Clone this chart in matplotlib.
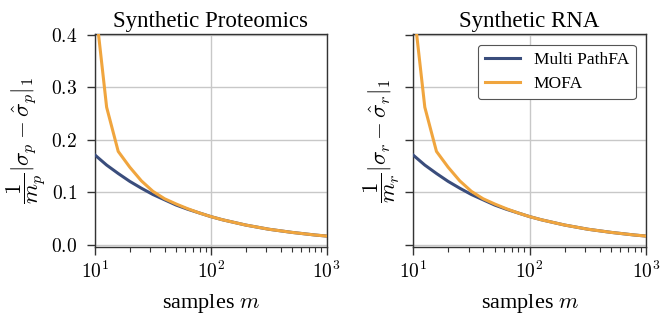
import matplotlib
matplotlib.use("Agg")
import matplotlib.pyplot as plt
import matplotlib.ticker as mticker
import numpy as np

samples = [10.0, 12.59, 15.85, 19.95, 25.12, 31.62, 39.81, 50.12, 63.10, 79.43,
           100.0, 125.9, 158.5, 199.5, 251.2, 316.2, 398.1, 501.2, 631.0, 794.3, 1000.0]
pathfa_prot = [0.171, 0.152, 0.136, 0.121, 0.108, 0.096, 0.086, 0.076, 0.068, 0.061,
               0.054, 0.048, 0.043, 0.038, 0.034, 0.030, 0.027, 0.024, 0.0215, 0.019, 0.017]
mofa_prot = [0.46, 0.262, 0.178, 0.148, 0.122, 0.102, 0.088, 0.078, 0.069, 0.061,
             0.054, 0.048, 0.043, 0.038, 0.034, 0.030, 0.027, 0.024, 0.0215, 0.019, 0.017]
pathfa_rna = [0.171, 0.152, 0.136, 0.121, 0.108, 0.096, 0.086, 0.076, 0.068, 0.061,
              0.054, 0.048, 0.043, 0.038, 0.034, 0.030, 0.027, 0.024, 0.0215, 0.019, 0.017]
mofa_rna = [0.46, 0.262, 0.178, 0.148, 0.122, 0.102, 0.088, 0.078, 0.069, 0.061,
            0.054, 0.048, 0.043, 0.038, 0.034, 0.030, 0.027, 0.024, 0.0215, 0.019, 0.017]
titles = ["Synthetic Proteomics", "Synthetic RNA"]
ylabels = [r"$\dfrac{1}{m_p}|\sigma_p - \hat{\sigma}_p|_1$",
           r"$\dfrac{1}{m_r}|\sigma_r - \hat{\sigma}_r|_1$"]
yticks = [0.0, 0.1, 0.2, 0.3, 0.4]

plt.rcParams["mathtext.fontset"] = "cm"
plt.rcParams["font.family"] = ["Liberation Serif", "DejaVu Serif"]

BLUE = "#3a4d7c"
ORANGE = "#f0a53e"
SPINE = "#333333"

fig = plt.figure(figsize=(6.6, 3.16), dpi=100)
ax1 = fig.add_axes([0.144, 0.218, 0.351, 0.674])
ax2 = fig.add_axes([0.626, 0.218, 0.353, 0.674])

data = [(pathfa_prot, mofa_prot), (pathfa_rna, mofa_rna)]
for i, ax in enumerate([ax1, ax2]):
    pf, mo = data[i]
    ax.plot(samples, pf, color=BLUE, lw=2.2, label="Multi PathFA", zorder=3)
    ax.plot(samples, mo, color=ORANGE, lw=2.2, label="MOFA", zorder=3)
    ax.set_xscale("log")
    ax.set_xlim(10, 1000)
    ax.set_ylim(-0.004, 0.401)
    ax.set_yticks(yticks)
    ax.grid(True, which="major", color="#c8c8c8", lw=1.0, zorder=0)
    for s in ax.spines.values():
        s.set_color(SPINE)
        s.set_linewidth(1.0)
    ax.tick_params(axis="both", which="major", length=6, width=1, color=SPINE,
                   labelsize=14)
    ax.tick_params(axis="y", which="major", pad=7)
    ax.tick_params(axis="x", which="major", pad=4)
    ax.tick_params(axis="x", which="minor", length=3.5, width=0.8, color=SPINE)
    ax.xaxis.set_major_formatter(mticker.FuncFormatter(
        lambda v, p: r"$10^{%d}$" % int(round(np.log10(v)))))
    ax.yaxis.set_major_formatter(mticker.FuncFormatter(lambda v, p: r"$%.1f$" % v))
    ax.set_title(titles[i], fontsize=16.5, pad=5)
    ax.set_xlabel(r"samples $m$", fontsize=16, labelpad=7)
    ax.set_ylabel(ylabels[i], fontsize=16.5, labelpad=2)

ax2.tick_params(axis="y", labelleft=False)
leg = ax2.legend(loc="upper right", fontsize=12.5, frameon=True, fancybox=True,
                 edgecolor="#555555", framealpha=1.0, handlelength=2.0,
                 borderaxespad=0.6)
leg.get_frame().set_linewidth(0.8)

fig.savefig("out.png", dpi=100)
